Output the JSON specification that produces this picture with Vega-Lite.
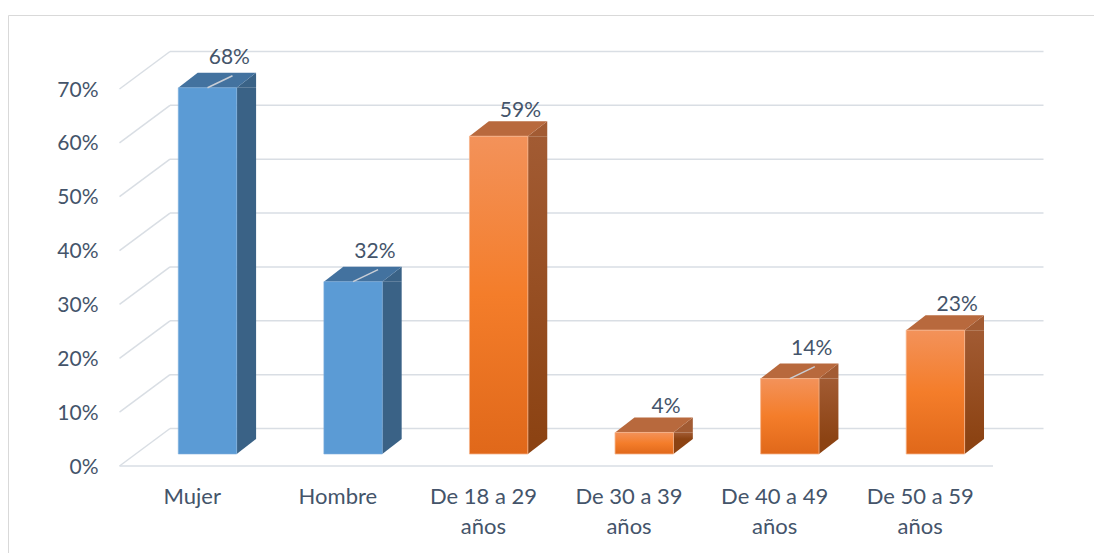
{
  "$schema": "https://vega.github.io/schema/vega-lite/v6.json",
  "width": 1086,
  "height": 538,
  "autosize": {"type": "none"},
  "padding": {"left": 8, "top": 15, "right": 0, "bottom": 0},
  "config": {
    "font": "Lato",
    "view": {"stroke": "#D9D9D9", "strokeWidth": 1},
    "axis": {"grid": false, "domain": false, "ticks": false, "tickSize": 0, "labelFont": "Lato", "labelFontSize": 21, "labelColor": "#44546A"}
  },
  "datasets": {
    "bars": [
      {"c": "Mujer", "v": 0.68, "g": "Género"},
      {"c": "Hombre", "v": 0.32, "g": "Género"},
      {"c": "De 18 a 29 años", "v": 0.59, "g": "Edad"},
      {"c": "De 30 a 39 años", "v": 0.04, "g": "Edad"},
      {"c": "De 40 a 49 años", "v": 0.14, "g": "Edad"},
      {"c": "De 50 a 59 años", "v": 0.23, "g": "Edad"}
    ],
    "ticks": [
      {"t": 0}, {"t": 0.1}, {"t": 0.2}, {"t": 0.3}, {"t": 0.4}, {"t": 0.5}, {"t": 0.6}, {"t": 0.7}
    ]
  },
  "layer": [
    {
      "data": {"name": "bars"},
      "mark": {"type": "point", "opacity": 0, "size": 1},
      "encoding": {
        "x": {"field": "c", "type": "nominal", "title": null,
              "scale": {"domain": ["Mujer", "Hombre", "De 18 a 29 años", "De 30 a 39 años", "De 40 a 49 años", "De 50 a 59 años"], "range": [111.5, 985], "paddingInner": 0, "paddingOuter": 0},
              "axis": {"title": null, "orient": "bottom", "offset": -87, "labelPadding": 20, "labelFontSize": 22, "labelLineHeight": 30, "labelBaseline": "top", "labelAngle": 0,
                       "labelExpr": "indexof(datum.label, ' años') > 0 ? [replace(datum.label, ' años', ''), 'años'] : datum.label"}},
        "y": {"field": "v", "type": "quantitative", "title": null,
              "scale": {"domain": [0, 0.7], "range": [451, 74], "nice": false, "zero": false},
              "axis": {"title": null, "values": [0, 0.1, 0.2, 0.3, 0.4, 0.5, 0.6, 0.7], "format": ".0%", "offset": -90, "labelPadding": 0, "labelBaseline": "middle", "labelOffset": 1}}
      }
    },
    {
      "data": {"name": "ticks"},
      "mark": {"type": "rule", "color": "#D9DEE4", "strokeWidth": 1.5, "xOffset": 50.5, "x2Offset": 50.5, "yOffset": -37.5},
      "encoding": {
        "x": {"datum": "Mujer", "type": "nominal", "bandPosition": 0, "title": null},
        "x2": {"datum": "De 50 a 59 años", "bandPosition": 1},
        "y": {"field": "t", "type": "quantitative", "title": null}
      }
    },
    {
      "data": {"name": "ticks"},
      "mark": {"type": "point", "shape": "M0,0L50.5,-37.5", "size": 4, "filled": false, "stroke": "#D9DEE4", "strokeWidth": 1.5, "opacity": 1},
      "encoding": {
        "x": {"datum": "Mujer", "type": "nominal", "bandPosition": 0, "title": null},
        "y": {"field": "t", "type": "quantitative", "title": null}
      }
    },
    {
      "data": {"name": "ticks"},
      "transform": [{"filter": "datum.t == 0"}],
      "mark": {"type": "rule", "color": "#D9DEE4", "strokeWidth": 1.5},
      "encoding": {
        "x": {"datum": "Mujer", "type": "nominal", "bandPosition": 0, "title": null},
        "x2": {"datum": "De 50 a 59 años", "bandPosition": 1},
        "y": {"field": "t", "type": "quantitative", "title": null}
      }
    },
    {
      "data": {"name": "bars"},
      "transform": [{"filter": "datum.g == 'Género'"}],
      "layer": [
        {
          "mark": {"type": "bar", "width": 19.4, "xOffset": 54.1, "yOffset": -12, "y2Offset": -27, "fill": "#3A6286"},
          "encoding": {
            "x": {"field": "c", "type": "nominal", "title": null},
            "y": {"field": "v", "type": "quantitative", "title": null},
            "y2": {"datum": 0}
          }
        },
        {
          "mark": {"type": "point", "shape": "M0,0L19.4,-15L19.4,0Z", "size": 4, "filled": true, "fill": "#3A6286", "strokeWidth": 0, "opacity": 1, "xOffset": 44.4, "yOffset": -12},
          "encoding": {
            "x": {"field": "c", "type": "nominal", "title": null},
            "y": {"field": "v", "type": "quantitative", "title": null}
          }
        },
        {
          "mark": {"type": "point", "shape": "M0,0L0,-15L19.4,-15Z", "size": 4, "filled": true, "fill": "#3A6286", "strokeWidth": 0, "opacity": 1, "xOffset": 44.4, "yOffset": -12},
          "encoding": {
            "x": {"field": "c", "type": "nominal", "title": null},
            "y": {"datum": 0, "type": "quantitative", "title": null}
          }
        },
        {
          "mark": {"type": "point", "shape": "M0,0L58.4,0L77.8,-15L19.4,-15Z", "size": 4, "filled": true, "fill": "#43729F", "strokeWidth": 0, "opacity": 1, "xOffset": -14, "yOffset": -12},
          "encoding": {
            "x": {"field": "c", "type": "nominal", "title": null},
            "y": {"field": "v", "type": "quantitative", "title": null}
          }
        },
        {
          "mark": {"type": "bar", "width": 58.4, "xOffset": 15.2, "yOffset": -12, "y2Offset": -12, "fill": "#5B9BD5", "stroke": "#7FB0DE", "strokeWidth": 0.6},
          "encoding": {
            "x": {"field": "c", "type": "nominal", "title": null},
            "y": {"field": "v", "type": "quantitative", "title": null},
            "y2": {"datum": 0}
          }
        }
      ]
    },
    {
      "data": {"name": "bars"},
      "transform": [{"filter": "datum.g == 'Edad'"}],
      "layer": [
        {
          "mark": {"type": "bar", "width": 19.4, "xOffset": 54.1, "yOffset": -12, "y2Offset": -27,
                   "fill": {"gradient": "linear", "x1": 0, "y1": 0, "x2": 0, "y2": 1, "stops": [{"offset": 0, "color": "#A25B33"}, {"offset": 1, "color": "#8C4313"}]}},
          "encoding": {
            "x": {"field": "c", "type": "nominal", "title": null},
            "y": {"field": "v", "type": "quantitative", "title": null},
            "y2": {"datum": 0}
          }
        },
        {
          "mark": {"type": "point", "shape": "M0,0L19.4,-15L19.4,0Z", "size": 4, "filled": true, "fill": "#A25B33", "strokeWidth": 0, "opacity": 1, "xOffset": 44.4, "yOffset": -12},
          "encoding": {
            "x": {"field": "c", "type": "nominal", "title": null},
            "y": {"field": "v", "type": "quantitative", "title": null}
          }
        },
        {
          "mark": {"type": "point", "shape": "M0,0L0,-15L19.4,-15Z", "size": 4, "filled": true, "fill": "#8C4313", "strokeWidth": 0, "opacity": 1, "xOffset": 44.4, "yOffset": -12},
          "encoding": {
            "x": {"field": "c", "type": "nominal", "title": null},
            "y": {"datum": 0, "type": "quantitative", "title": null}
          }
        },
        {
          "mark": {"type": "point", "shape": "M0,0L58.4,0L77.8,-15L19.4,-15Z", "size": 4, "filled": true, "fill": "#B8693D", "strokeWidth": 0, "opacity": 1, "xOffset": -14, "yOffset": -12},
          "encoding": {
            "x": {"field": "c", "type": "nominal", "title": null},
            "y": {"field": "v", "type": "quantitative", "title": null}
          }
        },
        {
          "mark": {"type": "bar", "width": 58.4, "xOffset": 15.2, "yOffset": -12, "y2Offset": -12,
                   "fill": {"gradient": "linear", "x1": 0, "y1": 0, "x2": 0, "y2": 1, "stops": [{"offset": 0, "color": "#F3925A"}, {"offset": 0.5, "color": "#F47D2A"}, {"offset": 1, "color": "#E0681A"}]},
                   "stroke": "#F6B48A", "strokeWidth": 0.8},
          "encoding": {
            "x": {"field": "c", "type": "nominal", "title": null},
            "y": {"field": "v", "type": "quantitative", "title": null},
            "y2": {"datum": 0}
          }
        }
      ]
    },
    {
      "data": {"name": "bars"},
      "transform": [{"filter": "indexof(['Mujer', 'Hombre', 'De 40 a 49 años'], datum.c) >= 0"}],
      "layer": [
        {
          "mark": {"type": "point", "shape": "M0,0L25,-12", "size": 4, "filled": false, "stroke": "#C9CED6", "strokeWidth": 1.5, "opacity": 1, "xOffset": 15.2, "yOffset": -12},
          "encoding": {
            "x": {"field": "c", "type": "nominal", "title": null},
            "y": {"field": "v", "type": "quantitative", "title": null}
          }
        },
        {
          "mark": {"type": "text", "font": "Lato", "fontSize": 21, "color": "#44546A", "baseline": "middle", "align": "center", "xOffset": 37, "yOffset": -42},
          "encoding": {
            "x": {"field": "c", "type": "nominal", "title": null},
            "y": {"field": "v", "type": "quantitative", "title": null},
            "text": {"field": "v", "type": "quantitative", "format": ".0%"}
          }
        }
      ]
    },
    {
      "data": {"name": "bars"},
      "transform": [{"filter": "indexof(['Mujer', 'Hombre', 'De 40 a 49 años'], datum.c) < 0"}],
      "mark": {"type": "text", "font": "Lato", "fontSize": 21, "color": "#44546A", "baseline": "middle", "align": "center", "xOffset": 37, "yOffset": -37},
      "encoding": {
        "x": {"field": "c", "type": "nominal", "title": null},
        "y": {"field": "v", "type": "quantitative", "title": null},
        "text": {"field": "v", "type": "quantitative", "format": ".0%"}
      }
    }
  ]
}
